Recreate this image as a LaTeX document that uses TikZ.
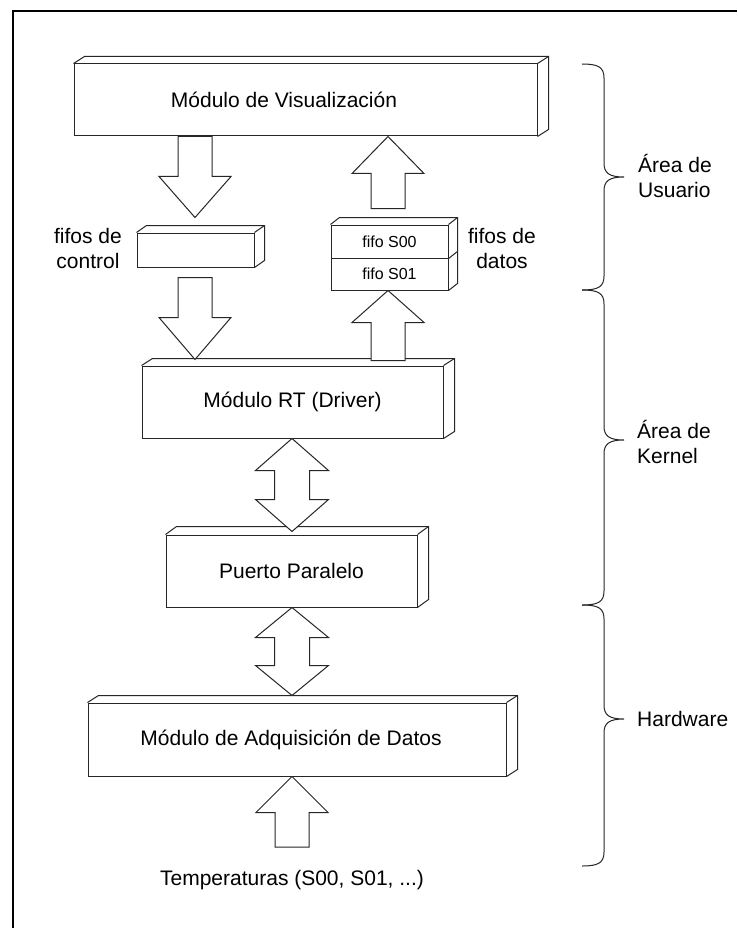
\documentclass[tikz,border=0pt]{standalone}
\usepackage{fontspec}
\setmainfont{Liberation Sans}
\usetikzlibrary{calc}

\tikzset{
  boxface/.style={draw=black!85, line width=1pt, fill=white, inner sep=0pt, rectangle,
                  font=\fontsize{21}{25}\selectfont},
  boxedge/.style={draw=black!85, line width=1pt, line join=miter},
  blk/.style={draw=black!85, line width=1pt, fill=white, line join=miter},
  bracket/.style={draw=black!85, line width=1pt},
  lbl/.style={font=\fontsize{21}{25}\selectfont, align=center, inner sep=0pt},
  fifotext/.style={font=\fontsize{16}{19}\selectfont},
}

% top and right faces of a 3D box whose front face is node #1
\newcommand\depthfaces[3]{%
  \draw[boxedge] (#1.north west) -- ++(#2,-#3) -| ($(#1.south east)+(#2,-#3)$) -- (#1.south east);
  \draw[boxedge] (#1.north east) -- ++(#2,-#3);
}

% block arrow: x, start point, tip point, head length
\newcommand\singlearrow[4]{%
  \draw[blk] let \p1=(#2), \p2=(#3), \n1={ifthenelse(\y2<\y1,1,-1)} in
    ({#1pt-17pt},\y1) -- ({#1pt-17pt},{\y2+\n1*#4pt}) -- ({#1pt-36pt},{\y2+\n1*#4pt})
    -- ({#1pt},\y2) -- ({#1pt+36pt},{\y2+\n1*#4pt}) -- ({#1pt+17pt},{\y2+\n1*#4pt})
    -- ({#1pt+17pt},\y1) -- cycle;
}

% two-headed block arrow: x, upper tip, lower tip, head length
\newcommand\doublearrow[4]{%
  \draw[blk] let \p1=(#2), \p2=(#3) in
    ({#1pt},\y1) -- ({#1pt+36.5pt},{\y1-#4pt}) -- ({#1pt+17.5pt},{\y1-#4pt})
    -- ({#1pt+17.5pt},{\y2+#4pt}) -- ({#1pt+36.5pt},{\y2+#4pt}) -- ({#1pt},\y2)
    -- ({#1pt-36.5pt},{\y2+#4pt}) -- ({#1pt-17.5pt},{\y2+#4pt})
    -- ({#1pt-17.5pt},{\y1-#4pt}) -- ({#1pt-36.5pt},{\y1-#4pt}) -- cycle;
}

% right curly brace: top, tip, bottom
\newcommand\curlybrace[3]{%
  \draw[bracket] (582,#1) .. controls (598,#1) and (604,{#1+3}) .. (604,{#1+14})
    -- (604,{#2-14}) .. controls (604,{#2-4}) and (609,#2) .. (624,#2)
    .. controls (609,#2) and (604,{#2+4}) .. (604,{#2+14})
    -- (604,{#3-14}) .. controls (604,{#3-3}) and (598,#3) .. (582,#3);
}

\begin{document}
\begin{tikzpicture}[x=1pt,y=-1pt]
\useasboundingbox[fill=white] (0,0) rectangle (737,928);

% frame
\draw[line width=2pt, draw=black] (13,928) -- (13,11) -- (737,11);

% boxes
\node[boxface, minimum width=463pt, minimum height=72pt] (vis) at (305.5,100) {};
\node[lbl] (vistext) at (284,100) {Módulo de Visualización};
\depthfaces{vis}{11}{7}

\node[boxface, minimum width=117pt, minimum height=34pt] (ctl) at (195.5,250) {};
\depthfaces{ctl}{10}{7}

\node[boxface, fifotext, minimum width=117pt, minimum height=33pt] (s00) at (389.5,241.5) {fifo S00};
\node[boxface, fifotext, minimum width=117pt, minimum height=32pt] (s01) at (389.5,274) {fifo S01};
\draw[boxedge] (s00.north west) -- ++(9,-7) -| ($(s01.south east)+(9,-7)$) -- (s01.south east);
\draw[boxedge] (s00.north east) -- ++(9,-7);
\draw[boxedge] (s00.south east) -- ++(9,-7);

\node[boxface, minimum width=301pt, minimum height=72pt] (rt) at (292.5,402) {Módulo RT (Driver)};
\depthfaces{rt}{11}{7}

\node[boxface, minimum width=251pt, minimum height=72pt] (pp) at (291.5,571) {Puerto Paralelo};
\depthfaces{pp}{11}{8}

\node[boxface, minimum width=418pt, minimum height=73pt] (adq) at (297,739.5) {};
\node[lbl] (adqtext) at (291,739.5) {Módulo de Adquisición de Datos};
\depthfaces{adq}{11}{7}

% block arrows
\singlearrow{195}{vis.south}{$(ctl.north)+(0,-15)$}{41}
\singlearrow{195}{$(ctl.south)+(0,10)$}{$(rt.north)+(0,-6)$}{42}
\singlearrow{388}{$(rt.north)+(0,-5)$}{s01.south}{32}
\singlearrow{388}{$(s00.north)+(0,-16)$}{vis.south}{37}
\doublearrow{292}{rt.south}{$(pp.north)+(0,-3)$}{32}
\doublearrow{292}{pp.south}{$(adq.north)+(0,-7)$}{30}
\coordinate (tin) at (292,847);
\singlearrow{292}{tin}{adq.south}{36}

% labels
\node[lbl] (lctl) at (88,248) {fifos de\\control};
\node[lbl] (ldat) at (502,248) {fifos de\\datos};
\node[lbl] (temp) at (292,880) {Temperaturas (S00, S01, ...)};

% braces and areas
\curlybrace{64}{177}{290}
\curlybrace{290}{440}{605}
\curlybrace{605}{719}{866}
\node[lbl, align=left, anchor=west] (usr) at (638,176) {Área de\\Usuario};
\node[lbl, align=left, anchor=west] (krn) at (637,442) {Área de\\Kernel};
\node[lbl, anchor=west] (hw) at (637,719) {Hardware};
\end{tikzpicture}
\end{document}
